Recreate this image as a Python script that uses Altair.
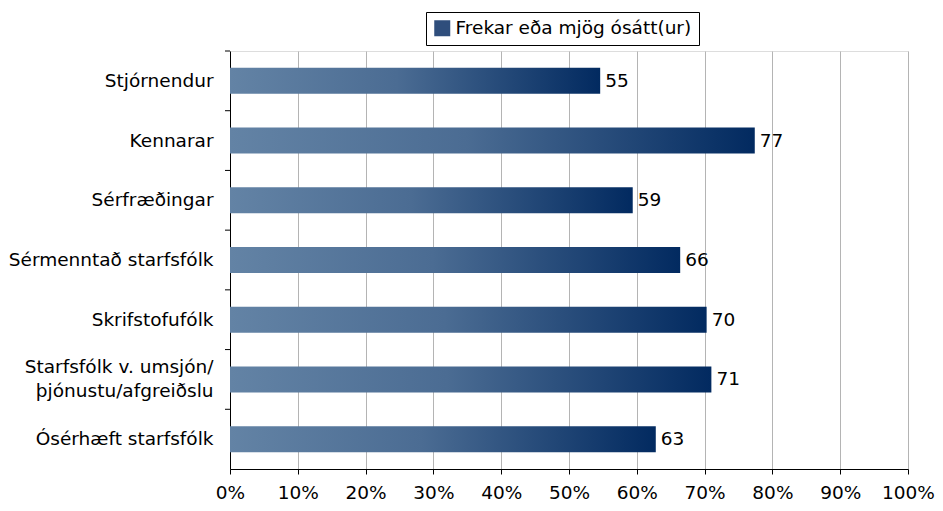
import altair as alt
import pandas as pd

categories = [
    "Stjórnendur",
    "Kennarar",
    "Sérfræðingar",
    "Sérmenntað starfsfólk",
    "Skrifstofufólk",
    "Starfsfólk v. umsjón/|þjónustu/afgreiðslu",
    "Ósérhæft starfsfólk",
]
values = [54.6, 77.4, 59.4, 66.4, 70.3, 71.0, 62.8]
series_name = "Frekar eða mjög ósátt(ur)"
x_ticks = [0, 10, 20, 30, 40, 50, 60, 70, 80, 90, 100]

df = pd.DataFrame({"cat": categories, "val": values, "series": series_name})

FONT = "DejaVu Sans"
FS = 18.5
W, H = 678, 418
STEP = H / len(categories)
P_INNER = 0.565

gradient = {
    "gradient": "linear",
    "x1": 0, "x2": 1, "y1": 0, "y2": 0,
    "stops": [
        {"offset": 0, "color": "#6383a5"},
        {"offset": 0.45, "color": "#4b6c93"},
        {"offset": 1, "color": "#022a60"},
    ],
}

y_enc = alt.Y(
    "cat:N",
    sort=categories,
    title=None,
    scale=alt.Scale(paddingInner=P_INNER, paddingOuter=P_INNER / 2),
    axis=alt.Axis(
        labelExpr="split(datum.label, '|')",
        labelFont=FONT,
        labelFontSize=FS,
        labelColor="black",
        labelPadding=17,
        labelLineHeight=24,
        labelLimit=0,
        labelOffset={"condition": {"test": "indexof(datum.value, '|') >= 0", "value": -12}, "value": 0},
        ticks=False,
        domainColor="black",
        minExtent=221,
        maxExtent=221,
        grid=False,
    ),
)

x_enc = alt.X(
    "val:Q",
    title=None,
    scale=alt.Scale(domain=[0, 100], nice=False),
    axis=alt.Axis(
        values=x_ticks,
        labelExpr="datum.value + '%'",
        labelFont=FONT,
        labelFontSize=FS,
        labelColor="black",
        labelPadding=9,
        tickSize=5,
        tickColor="black",
        domainColor="black",
        grid=True,
        gridColor="#b4b4b4",
        gridWidth=1,
        labelFlush=False,
    ),
)

bars = alt.Chart(df).mark_bar(fill=gradient).encode(x=x_enc, y=y_enc)

labels = alt.Chart(df).mark_text(
    align="left", baseline="middle", dx=5, font=FONT, fontSize=FS, color="black"
).encode(
    x=alt.X("val:Q"),
    y=alt.Y("cat:N", sort=categories),
    text=alt.Text("val:Q", format=".0f"),
)

yticks = alt.Chart(df).mark_rule(color="black", strokeWidth=1).encode(
    y=alt.Y("cat:N", sort=categories),
    yOffset=alt.value(-STEP * P_INNER / 2),
    x=alt.value(-5),
    x2=alt.value(0),
)

legend_layer = alt.Chart(df).mark_square().encode(
    color=alt.Color(
        "series:N",
        scale=alt.Scale(domain=[series_name], range=["#2f4e7c"]),
        legend=alt.Legend(
            title=None,
            orient="none",
            legendX=196,
            legendY=-39,
            padding=7,
            strokeColor="black",
            fillColor="white",
            labelFont=FONT,
            labelFontSize=FS,
            labelColor="black",
            labelOffset=4,
            labelLimit=0,
            symbolType="square",
            symbolSize=256,
            symbolStrokeWidth=0,
            symbolOpacity=1,
        ),
    ),
    x=alt.X("val:Q"),
    y=alt.Y("cat:N", sort=categories),
).transform_filter("false")

chart = alt.layer(bars, labels, yticks, legend_layer).properties(
    width=W,
    height=H,
    padding={"left": 0, "top": 3, "right": 0, "bottom": 0},
).configure_view(stroke=None).configure(font=FONT)

chart.save("out.html", embed_options={"renderer": "svg", "actions": False})
